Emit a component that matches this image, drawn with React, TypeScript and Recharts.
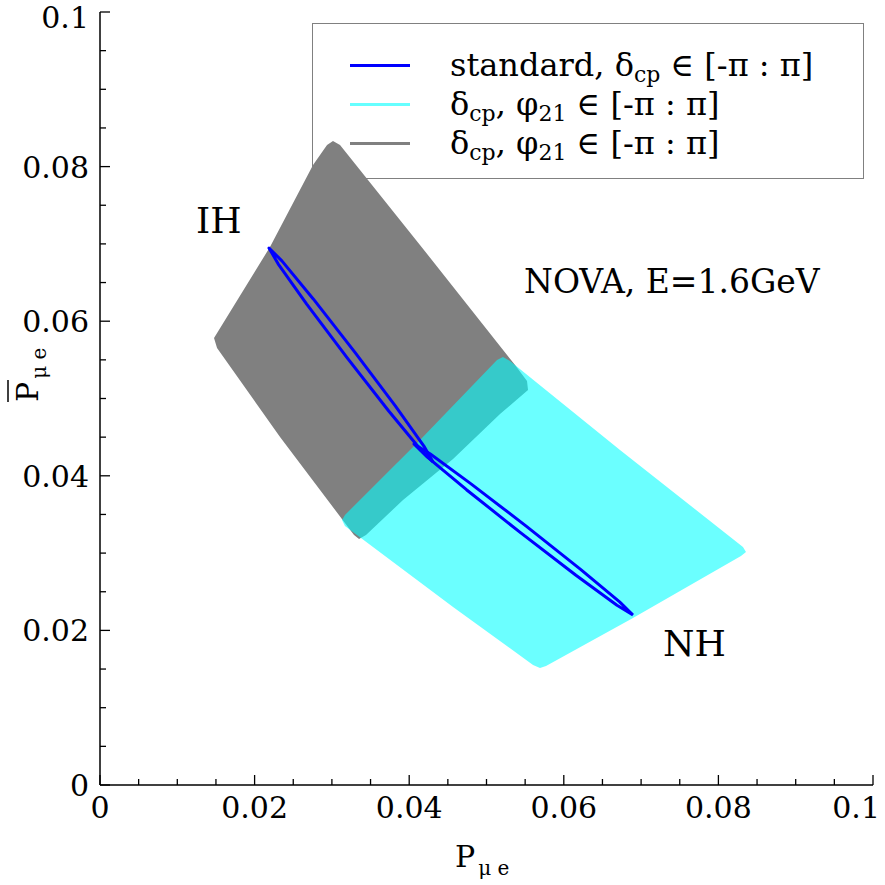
import React from "react";
import { ScatterChart, Scatter, XAxis, YAxis, Legend } from "recharts";

// tick positions (minor every 0.005, labels on the 0.02 ones)
const axisTicks = [0, 0.005, 0.01, 0.015, 0.02, 0.025, 0.03, 0.035, 0.04, 0.045, 0.05,
  0.055, 0.06, 0.065, 0.07, 0.075, 0.08, 0.085, 0.09, 0.095, 0.1];
const majorTicks = [0, 0.02, 0.04, 0.06, 0.08, 0.1];
const majorLabels = ["0", "0.02", "0.04", "0.06", "0.08", "0.1"];

// grey region (IH, delta_cp and phi_21 free)
const ihAreaX = [0.03014, 0.03105, 0.04191, 0.05369, 0.05524, 0.05537, 0.05175, 0.04567, 0.0392,
  0.03441, 0.03351, 0.03286, 0.02329, 0.01514, 0.01475, 0.02199, 0.02756, 0.02937];
const ihAreaY = [0.08331, 0.08279, 0.06921, 0.05433, 0.05226, 0.0511, 0.04799, 0.04217, 0.03687,
  0.03234, 0.03182, 0.03234, 0.04502, 0.05653, 0.05783, 0.0696, 0.08021, 0.08279];

// cyan region (NH)
const nhAreaX = [0.05136, 0.05213, 0.05304, 0.06727, 0.08318, 0.08357, 0.08292, 0.06895, 0.0577,
  0.05692, 0.05602, 0.04567, 0.03169, 0.03131, 0.03169, 0.0414];
const nhAreaY = [0.05498, 0.05537, 0.05485, 0.04334, 0.03079, 0.03014, 0.02962, 0.0216, 0.01539,
  0.01514, 0.01552, 0.02303, 0.03351, 0.03428, 0.03493, 0.04463];

// standard oscillation loops, delta_cp in [-pi:pi]
const ihLoopX = [0.04308, 0.0419, 0.0382, 0.03296, 0.02759, 0.02353, 0.02186, 0.02304, 0.02674,
  0.03198, 0.03735, 0.04141, 0.04308];
const ihLoopY = [0.04179, 0.04384, 0.04904, 0.05601, 0.06288, 0.06781, 0.06947, 0.06743, 0.06222,
  0.05525, 0.04838, 0.04346, 0.04179];
const nhLoopX = [0.06895, 0.06722, 0.06217, 0.05513, 0.048, 0.04269, 0.04062, 0.04235, 0.04741,
  0.05444, 0.06157, 0.06688, 0.06895];
const nhLoopY = [0.02199, 0.02369, 0.0279, 0.03349, 0.03896, 0.04285, 0.04411, 0.04241, 0.0382,
  0.03261, 0.02714, 0.02325, 0.02199];

const legendColors = ["#0000ff", "#66ffff", "#808080"];
const legendMain = ["standard, δ", "δ", "δ"];
const legendRest = [" ∈ [-π : π]", ", φ", ", φ"];

const toPoints = (xs: number[], ys: number[]) => xs.map((x, i) => ({ x, y: ys[i] }));

const font = "'DejaVu Serif', serif";

const findMajor = (v: number) => majorTicks.findIndex((m) => Math.abs(m - v) < 1e-9);

const BottomTick = (props: any) => {
  const { x, y, payload } = props;
  const k = findMajor(payload.value);
  const last = k === majorTicks.length - 1;
  return (
    <g>
      <line x1={x} x2={x} y1={y} y2={y - (k >= 0 ? 10 : 6)} stroke="#000" strokeWidth={1.3} />
      {k >= 0 && (
        <text x={last ? x + 7 : x} y={y + 33} textAnchor={last ? "end" : "middle"} fontSize={30} fontFamily={font} fill="#000">
          {majorLabels[k]}
        </text>
      )}
    </g>
  );
};

const LeftTick = (props: any) => {
  const { x, y, payload } = props;
  const k = majorTicks.length ? findMajor(payload.value) : -1;
  const top = k === majorTicks.length - 1;
  return (
    <g>
      <line x1={x} x2={x + (k >= 0 ? 10 : 6)} y1={y} y2={y} stroke="#000" strokeWidth={1.3} />
      {k >= 0 && (
        <text x={x - 11} y={y + (top ? 16 : 11)} textAnchor="end" fontSize={30} fontFamily={font} fill="#000">
          {majorLabels[k]}
        </text>
      )}
    </g>
  );
};

const TopTick = (props: any) => {
  const { x, y, payload } = props;
  const k = findMajor(payload.value);
  return <line x1={x} x2={x} y1={y} y2={y + (k >= 0 ? 10 : 6)} stroke="#000" strokeWidth={1.3} />;
};

const RightTick = (props: any) => {
  const { x, y, payload } = props;
  const k = findMajor(payload.value);
  return <line x1={x} x2={x - (k >= 0 ? 10 : 6)} y1={y} y2={y} stroke="#000" strokeWidth={1.3} />;
};

const filledShape = (fill: string) => (props: any) => {
  const pts = props.points || [];
  const d = pts.map((p: any, i: number) => `${i ? "L" : "M"}${p.x},${p.y}`).join(" ") + " Z";
  return <path d={d} fill={fill} stroke="none" />;
};

const noDot = () => <g />;

const subStyle = { fontSize: 22, position: "relative" as const, top: 6 };

const LegendBox = () => (
  <div
    style={{
      position: "relative",
      width: 552,
      height: 156,
      border: "1.5px solid #808080",
      boxSizing: "border-box",
      fontFamily: font,
      color: "#000",
    }}
  >
    {legendColors.map((c, i) => (
      <div key={i} style={{ position: "absolute", left: 0, top: 23 + i * 39, height: 36, width: "100%" }}>
        <div style={{ position: "absolute", left: 37, top: 17, width: 60, height: 3, background: c }} />
        <div style={{ position: "absolute", left: 137, top: 0, fontSize: 32, lineHeight: "36px", whiteSpace: "nowrap" }}>
          {legendMain[i]}
          <span style={subStyle}>cp</span>
          {legendRest[i]}
          {i > 0 && <span style={subStyle}>21</span>}
          {i > 0 && " ∈ [-π : π]"}
        </div>
      </div>
    ))}
  </div>
);

export default function App() {
  return (
    <div style={{ position: "absolute", left: 0, top: 0, width: 885, height: 885, fontFamily: font }}>
      <ScatterChart width={885} height={885} margin={{ top: 12, right: 12, bottom: 0, left: 0 }}>
        <XAxis
          type="number"
          dataKey="x"
          domain={[0, 0.1]}
          ticks={axisTicks}
          interval={0}
          height={100}
          tickSize={0}
          tickMargin={0}
          tickLine={false}
          tick={<BottomTick />}
          axisLine={{ stroke: "#000", strokeWidth: 1.5 }}
        />
        <XAxis
          xAxisId="top"
          orientation="top"
          type="number"
          dataKey="x"
          domain={[0, 0.1]}
          ticks={axisTicks}
          interval={0}
          height={0}
          tickSize={0}
          tickMargin={0}
          tickLine={false}
          tick={<TopTick />}
          axisLine={{ stroke: "#000", strokeWidth: 1.5 }}
        />
        <YAxis
          type="number"
          dataKey="y"
          domain={[0, 0.1]}
          ticks={axisTicks}
          interval={0}
          width={100}
          tickSize={0}
          tickMargin={0}
          tickLine={false}
          tick={<LeftTick />}
          axisLine={{ stroke: "#000", strokeWidth: 1.5 }}
        />
        <YAxis
          yAxisId="right"
          orientation="right"
          type="number"
          dataKey="y"
          domain={[0, 0.1]}
          ticks={axisTicks}
          interval={0}
          width={0}
          tickSize={0}
          tickMargin={0}
          tickLine={false}
          tick={<RightTick />}
          axisLine={{ stroke: "#000", strokeWidth: 1.5 }}
        />
        <Scatter
          data={toPoints(ihAreaX, ihAreaY)}
          line={filledShape("#808080")}
          shape={noDot}
          legendType="none"
          isAnimationActive={false}
        />
        <Scatter
          data={toPoints(nhAreaX, nhAreaY)}
          line={filledShape("rgba(0,255,255,0.58)")}
          shape={noDot}
          legendType="none"
          isAnimationActive={false}
        />
        <Scatter
          data={toPoints(ihLoopX, ihLoopY)}
          line={{ stroke: "#0000ff", strokeWidth: 3, strokeLinejoin: "round" }}
          shape={noDot}
          legendType="none"
          isAnimationActive={false}
        />
        <Scatter
          data={toPoints(nhLoopX, nhLoopY)}
          line={{ stroke: "#0000ff", strokeWidth: 3, strokeLinejoin: "round" }}
          shape={noDot}
          legendType="none"
          isAnimationActive={false}
        />
        <Legend
          layout="horizontal"
          verticalAlign="middle"
          content={<LegendBox />}
          wrapperStyle={{ left: 312, top: 23, width: 552, height: 156, zIndex: -1 }}
        />
      </ScatterChart>

      {/* labels on the plot */}
      <svg width={885} height={885} style={{ position: "absolute", left: 0, top: 0, pointerEvents: "none" }}>
        <g fontFamily={font} fill="#000">
          <text x={196} y={233} fontSize={36}>IH</text>
          <text x={663} y={656} fontSize={36}>NH</text>
          <text x={524} y={293} fontSize={33}>NOVA, E=1.6GeV</text>
          <text x={455} y={867} fontSize={30}>
            P<tspan fontSize={20} dy={8} dx={3}>μ e</tspan>
          </text>
          <g transform="translate(38,402) rotate(-90)">
            <text x={0} y={0} fontSize={30}>
              P<tspan fontSize={20} dy={8} dx={3}>μ e</tspan>
            </text>
            <line x1={0} x2={22} y1={-30} y2={-30} stroke="#000" strokeWidth={1.5} />
          </g>
        </g>
      </svg>
    </div>
  );
}
